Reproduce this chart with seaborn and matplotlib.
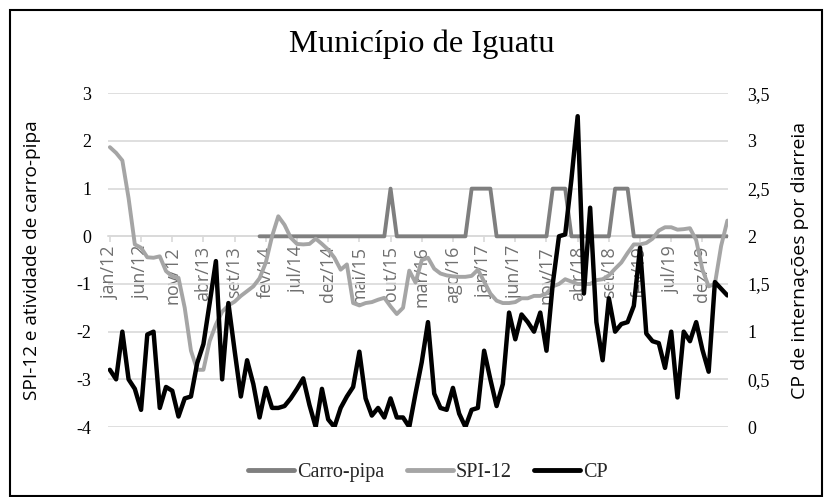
import numpy as np
import pandas as pd
import matplotlib
matplotlib.use("Agg")
import matplotlib.pyplot as plt
import seaborn as sns
from matplotlib.patches import Rectangle
from matplotlib.lines import Line2D

# ---------------- data ----------------
month_names = ["jan", "fev", "mar", "abr", "mai", "jun",
               "jul", "ago", "set", "out", "nov", "dez"]
months = [f"{m}/{y:02d}" for y in range(12, 21) for m in month_names][:100]  # jan/12 .. abr/20

spi12 = [1.87, 1.75, 1.59, 0.80, -0.17, -0.24, -0.44, -0.45, -0.42, -0.73,
         -0.84, -0.87, -1.50, -2.40, -2.80, -2.80, -2.20, -1.85, -1.58, -1.45,
         -1.37, -1.25, -1.15, -1.05, -0.88, -0.55, 0.00, 0.42, 0.24, -0.03,
         -0.16, -0.17, -0.16, -0.05, -0.16, -0.28, -0.45, -0.70, -0.59, -1.40,
         -1.45, -1.40, -1.38, -1.33, -1.29, -1.47, -1.63, -1.50, -0.72, -0.97,
         -0.50, -0.45, -0.68, -0.78, -0.82, -0.84, -0.85, -0.85, -0.83, -0.70,
         -0.95, -1.20, -1.35, -1.40, -1.40, -1.38, -1.30, -1.30, -1.25, -1.25,
         -1.20, -1.05, -1.00, -0.90, -0.95, -1.00, -1.00, -1.00, -0.92, -0.90,
         -0.82, -0.68, -0.55, -0.35, -0.17, -0.17, -0.14, -0.05, 0.12, 0.19,
         0.19, 0.14, 0.15, 0.17, -0.08, -0.70, -1.05, -1.00, -0.20, 0.33]

cp = [0.60, 0.50, 1.00, 0.50, 0.40, 0.18, 0.97, 1.00, 0.20, 0.42,
      0.38, 0.11, 0.30, 0.32, 0.67, 0.87, 1.30, 1.74, 0.50, 1.30,
      0.80, 0.32, 0.70, 0.45, 0.10, 0.41, 0.20, 0.20, 0.22, 0.30,
      0.40, 0.51, 0.23, 0.00, 0.40, 0.08, 0.00, 0.20, 0.32, 0.42,
      0.79, 0.30, 0.12, 0.20, 0.10, 0.30, 0.10, 0.10, 0.00, 0.35,
      0.68, 1.10, 0.35, 0.20, 0.18, 0.41, 0.14, 0.00, 0.18, 0.20,
      0.80, 0.50, 0.22, 0.45, 1.20, 0.92, 1.18, 1.10, 1.00, 1.20,
      0.80, 1.50, 2.00, 2.02, 2.60, 3.26, 1.40, 2.30, 1.10, 0.70,
      1.35, 1.00, 1.08, 1.10, 1.27, 1.88, 0.98, 0.90, 0.88, 0.62,
      1.00, 0.31, 1.00, 0.90, 1.10, 0.81, 0.58, 1.52, 1.45, 1.38]

carro_pipa_start = "jan/14"
carro_pipa = [0, 0, 0, 0, 0, 0, 0, 0, 0, 0, 0, 0, 0, 0, 0, 0, 0, 0, 0, 0, 0,   # jan/14 - set/15
              1,                                                              # out/15
              0, 0, 0, 0, 0, 0, 0, 0, 0, 0, 0, 0,                             # nov/15 - out/16
              1, 1, 1, 1,                                                     # nov/16 - fev/17
              0, 0, 0, 0, 0, 0, 0, 0, 0,                                      # mar/17 - nov/17
              1, 1, 1,                                                        # dez/17 - fev/18
              0, 0, 0, 0, 0, 0, 0,                                            # mar/18 - set/18
              1, 1, 1,                                                        # out/18 - dez/18
              0, 0, 0, 0, 0, 0, 0, 0, 0, 0, 0, 0, 0, 0, 0, 0]                 # jan/19 - abr/20

left_ticks = [-4, -3, -2, -1, 0, 1, 2, 3]
right_ticks = [0, 0.5, 1, 1.5, 2, 2.5, 3, 3.5]
label_every = 5

# ---------------- style ----------------
sns.set_theme(style="white")
plt.rcParams["font.family"] = ["DejaVu Sans"]
plt.rcParams["axes.unicode_minus"] = False

C_PIPA = "#7F7F7F"
C_SPI = "#A5A5A5"
C_CP = "#000000"
GRID = "#D9D9D9"

W, H = 825, 497
fig = plt.figure(figsize=(W / 100, H / 100), dpi=100)
fig.patch.set_facecolor("white")

x0, x1, ytop, ybot = 108, 728, 93.3, 427
ax = fig.add_axes([x0 / W, 1 - ybot / H, (x1 - x0) / W, (ybot - ytop) / H])
ax2 = ax.twinx()

idx = np.arange(len(months))
start = months.index(carro_pipa_start)
df = pd.DataFrame({
    "mes": idx,
    "Carro-pipa": [np.nan] * start + carro_pipa,
    "SPI-12": spi12,
    "CP": cp,
})

sns.lineplot(data=df, x="mes", y="Carro-pipa", ax=ax, color=C_PIPA, lw=2.8,
             legend=False, solid_joinstyle="round", solid_capstyle="round", zorder=3)
sns.lineplot(data=df, x="mes", y="SPI-12", ax=ax, color=C_SPI, lw=2.8,
             legend=False, solid_joinstyle="round", solid_capstyle="round", zorder=4)
sns.lineplot(data=df, x="mes", y="CP", ax=ax2, color=C_CP, lw=3.2,
             legend=False, solid_joinstyle="round", solid_capstyle="round", zorder=5)

# left axis
ax.set_xlim(-0.3, len(months) - 1 + 0.1)
ax.set_ylim(-4, 3)
ax.set_yticks(left_ticks)
ax.set_yticklabels([str(t) for t in left_ticks], family="Liberation Serif",
                   fontsize=13, color="#000000")
ax.tick_params(axis="y", length=0, pad=12)
ax.yaxis.grid(True, color=GRID, lw=1.2)
ax.set_axisbelow(True)
for s in ["top", "left", "right"]:
    ax.spines[s].set_visible(False)
ax.spines["bottom"].set_position(("data", 0))
ax.spines["bottom"].set_color(GRID)
ax.spines["bottom"].set_linewidth(1.2)
ax.set_xticks(idx[::label_every])
ax.set_xticklabels(months[::label_every], rotation=90, family="Open Sans",
                   fontsize=12.9, color="#6F6F6F", va="top", ha="center")
ax.tick_params(axis="x", length=4, width=1.2, color=GRID, pad=3, bottom=True)
ax.set_xlabel("")
ax.set_ylabel("")

# right axis
ax2.set_ylim(0, 3.5)
ax2.set_yticks(right_ticks)
ax2.set_yticklabels([f"{t:g}".replace(".", ",") for t in right_ticks],
                    family="Liberation Serif", fontsize=13, color="#000000")
ax2.tick_params(axis="y", length=0, pad=14)
for s in ax2.spines.values():
    s.set_visible(False)
ax2.set_ylabel("")
ax2.set_xlabel("")

# texts
fig.text(422 / W, 1 - 44 / H, "Município de Iguatu", family="Liberation Serif",
         fontsize=23.4, ha="center", va="center", color="#000000")
fig.text(32 / W, 1 - 260.5 / H, "SPI-12 e atividade de carro-pipa", rotation=90,
         family="Open Sans", fontsize=13.7, ha="center", va="center", color="#000000")
fig.text(800 / W, 1 - 260 / H, "CP de internações por diarreia", rotation=90,
         family="Open Sans", fontsize=14, ha="center", va="center", color="#000000")

handles = [Line2D([], [], color=C_PIPA, lw=3.5),
           Line2D([], [], color=C_SPI, lw=3.5),
           Line2D([], [], color=C_CP, lw=3.5)]
fig.legend(handles, ["Carro-pipa", "SPI-12", "CP"], loc="center",
           bbox_to_anchor=(428 / W, 1 - 472 / H), ncol=3, frameon=False,
           prop={"family": "Liberation Serif", "size": 14.5},
           handlelength=2.3, handletextpad=0.15, columnspacing=1.1)

# outer frame
fig.patches.append(Rectangle((10 / W, 1 / H), (822 - 10) / W, (487 - 1) / H,
                             transform=fig.transFigure, fill=False,
                             edgecolor="black", lw=1.5))

fig.savefig("out.png", dpi=100, facecolor="white")
